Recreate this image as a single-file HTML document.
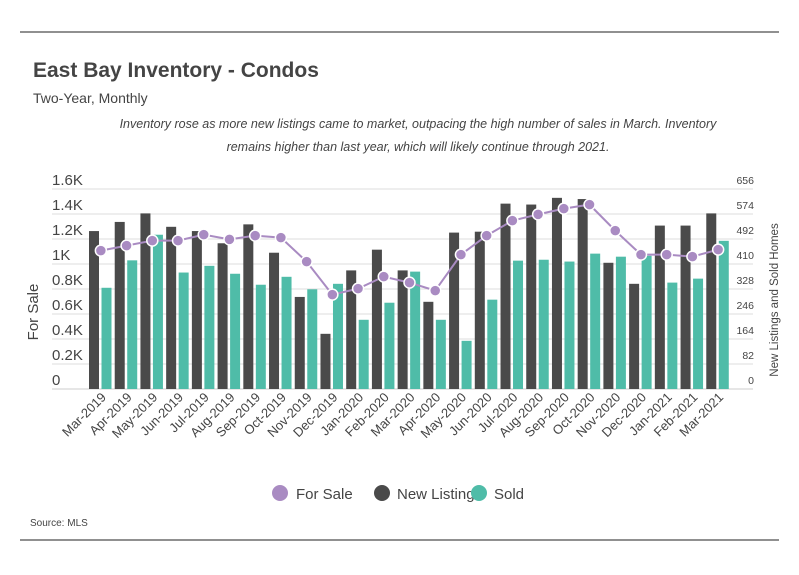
<!DOCTYPE html>
<html><head><meta charset="utf-8"><style>
body{margin:0;background:#fff;}
svg{display:block;font-family:"Liberation Sans",sans-serif;}
</style></head><body>
<svg width="799" height="575" viewBox="0 0 799 575" id="chart">
<line x1="20" y1="32" x2="779" y2="32" stroke="#222" stroke-width="1"/>
<line x1="20" y1="540" x2="779" y2="540" stroke="#222" stroke-width="1"/>
<text x="33" y="77" font-size="21" font-weight="bold" fill="#444">East Bay Inventory - Condos</text>
<text x="33" y="103" font-size="14" fill="#444">Two-Year, Monthly</text>
<text x="418" y="128" font-size="12.5" font-style="italic" fill="#444" text-anchor="middle">Inventory rose as more new listings came to market, outpacing the high number of sales in March. Inventory</text>
<text x="418" y="151" font-size="12.5" font-style="italic" fill="#444" text-anchor="middle">remains higher than last year, which will likely continue through 2021.</text>
<text transform="translate(38,312) rotate(-90)" font-size="15" fill="#444" text-anchor="middle">For Sale</text>
<text transform="translate(778,300) rotate(-90)" font-size="11.5" fill="#444" text-anchor="middle">New Listings and Sold Homes</text>
<g id="grid"></g><g id="bars"></g><g id="line"></g><g id="labels"></g>
<g>
<circle cx="280" cy="493" r="8" fill="#a98bc2"/>
<text x="296" y="499" font-size="15" fill="#444">For Sale</text>
<circle cx="382" cy="493" r="8" fill="#4a4a4a"/>
<text x="397" y="499" font-size="15" fill="#444">New Listings</text>
<circle cx="479" cy="493" r="8" fill="#4fbca8"/>
<text x="494" y="499" font-size="15" fill="#444">Sold</text>
</g>
<text x="30" y="526" font-size="10" fill="#444">Source:  MLS</text>
</svg>
<script>
const months=["Mar-2019","Apr-2019","May-2019","Jun-2019","Jul-2019","Aug-2019","Sep-2019","Oct-2019","Nov-2019","Dec-2019","Jan-2020","Feb-2020","Mar-2020","Apr-2020","May-2020","Jun-2020","Jul-2020","Aug-2020","Sep-2020","Oct-2020","Nov-2020","Dec-2020","Jan-2021","Feb-2021","Mar-2021"];
const newListings=[518,548,576,532,518,478,540,447,302,181,389,457,389,286,513,516,608,605,627,623,414,345,536,536,576];
const sold=[332,422,506,382,404,378,342,368,327,345,227,283,385,227,158,293,421,424,418,444,434,437,349,362,486];
const forSale=[1107,1147,1187,1187,1235,1197,1227,1211,1019,755,803,899,851,787,1075,1227,1347,1397,1443,1475,1267,1075,1075,1059,1115];
const leftTicks=["0","0.2K","0.4K","0.6K","0.8K","1K","1.2K","1.4K","1.6K"];
const rightTicks=["0","82","164","246","328","410","492","574","656"];
const NS="http://www.w3.org/2000/svg";
const X0=88,STEP=25.72,Y0=389,H=200,LMAX=1600,RMAX=656;
const yL=v=>Y0-v/LMAX*H, yR=v=>Y0-v/RMAX*H, xC=i=>X0+STEP*i+STEP/2;
function mk(tag,attrs,parent){const e=document.createElementNS(NS,tag);for(const k in attrs)e.setAttribute(k,attrs[k]);parent.appendChild(e);return e;}
const grid=document.getElementById('grid'),bars=document.getElementById('bars'),line=document.getElementById('line'),labels=document.getElementById('labels');
leftTicks.forEach((t,i)=>{const y=Y0-i*H/8;
 const l=mk('line',{x1:52,x2:753,y1:y,y2:y,stroke:i===0?'#ccc':'#ddd','stroke-width':1},grid);
 
 
 const tx=mk('text',{x:52,y:y-4,'font-size':15,fill:'#444'},grid);tx.textContent=t;
 
 
 const tr=mk('text',{x:754,y:y-5,'font-size':10.5,fill:'#444','text-anchor':'end'},grid);tr.textContent=rightTicks[i];
 
 
});
months.forEach((m,i)=>{const gx=X0+STEP*i;
 const b=mk('rect',{x:gx+1,y:yR(newListings[i]),width:10,height:Y0-yR(newListings[i]),fill:'#4a4a4a'},bars);
 
 
 const s=mk('rect',{x:gx+13.5,y:yR(sold[i]),width:10,height:Y0-yR(sold[i]),fill:'#4fbca8'},bars);
 
 
 const t=mk('text',{transform:`translate(${xC(i)+6},398) rotate(-45)`,'font-size':13,fill:'#444','text-anchor':'end'},labels);t.textContent=m;
 
 
});
const pl=mk('polyline',{points:forSale.map((v,i)=>xC(i)+','+yL(v)).join(' '),fill:'none',stroke:'#a98bc2','stroke-width':2},line);


forSale.forEach((v,i)=>{const c=mk('circle',{cx:xC(i),cy:yL(v),r:5.5,fill:'#a98bc2',stroke:'#fff','stroke-width':1.5},line);
 
 
});
</script>
</body></html>
